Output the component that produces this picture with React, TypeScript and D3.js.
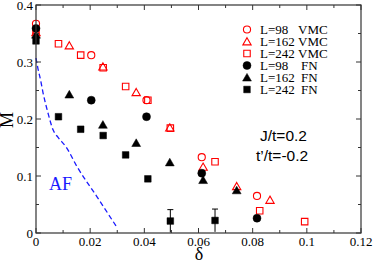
import React, { useEffect, useRef } from "react";
import * as d3 from "d3";

// delta values (hole doping) for each lattice size
const deltaL98 = [0, 0.0204, 0.0408, 0.0612, 0.0816];
const deltaL162 = [0, 0.0123, 0.0247, 0.037, 0.0494, 0.0617, 0.0741, 0.0864];
const deltaL242 = [0, 0.0083, 0.0165, 0.0248, 0.0331, 0.0413, 0.0496, 0.0661, 0.0826, 0.0992];
const deltaFN242 = [0, 0.0083, 0.0165, 0.0248, 0.0331, 0.0413, 0.0496, 0.0661];
const deltaFN162 = [0, 0.0123, 0.0247, 0.037, 0.0494, 0.0617, 0.0741];

// M values
const vmcL98 = [0.367, 0.312, 0.233, 0.133, 0.065];
const vmcL162 = [0.352, 0.329, 0.292, 0.247, 0.185, 0.116, 0.082, 0.058];
const vmcL242 = [0.355, 0.332, 0.312, 0.29, 0.257, 0.233, 0.184, 0.125, 0.039, 0.02];
const fnL98 = [0.359, 0.233, 0.204, 0.105, 0.026];
const fnL162 = [0.348, 0.243, 0.19, 0.158, 0.124, 0.093, 0.075];
const fnL242 = [0.337, 0.204, 0.182, 0.171, 0.137, 0.095, 0.021, 0.022];
const fnL242Err = [0, 0, 0, 0, 0, 0, 0.02, 0.02];

// AF boundary (dashed line)
const afDelta = [0, 0.0007, 0.0017, 0.0026, 0.0044, 0.0063, 0.0081, 0.0111, 0.0152, 0.0226, 0.03];
const afM = [0.307, 0.289, 0.268, 0.246, 0.211, 0.181, 0.168, 0.151, 0.116, 0.063, 0.009];

const xTicks = [0, 0.02, 0.04, 0.06, 0.08, 0.1, 0.12];
const xTickLabels = ["0", "0.02", "0.04", "0.06", "0.08", "0.1", "0.12"];
const yTicks = [0, 0.1, 0.2, 0.3, 0.4];
const yTickLabels = ["0", "0.1", "0.2", "0.3", "0.4"];
const xMinor = [0.01, 0.03, 0.05, 0.07, 0.09, 0.11];
const yMinor = [0.05, 0.15, 0.25, 0.35];

const legendNames = ["L=98", "L=162", "L=242", "L=98", "L=162", "L=242"];
const legendMethods = ["VMC", "VMC", "VMC", "FN", "FN", "FN"];

const serif = "'Liberation Serif', 'Times New Roman', serif";
const sans = "'Liberation Sans', Arial, sans-serif";

const App = () => {
  const svgRef = useRef(null);

  useEffect(() => {
    const width = 374;
    const height = 264;
    const svg = d3.select(svgRef.current).attr("width", width).attr("height", height);
    svg.selectAll("*").remove();

    const x = d3.scaleLinear().domain([0, 0.12]).range([36, 361]);
    const y = d3.scaleLinear().domain([0, 0.4]).range([233, 5]);

    const sym = {
      circle: d3.symbol().type(d3.symbolCircle),
      triangle: d3.symbol().type(d3.symbolTriangle),
      square: d3.symbol().type(d3.symbolSquare),
    };
    const sizes = { circle: 40, triangle: 30, square: 42 };
    const fillSizes = { circle: 50, triangle: 34, square: 44 };

    const series = [
      { xs: deltaL98, ys: vmcL98, shape: "circle", filled: false },
      { xs: deltaL162, ys: vmcL162, shape: "triangle", filled: false },
      { xs: deltaL242, ys: vmcL242, shape: "square", filled: false },
      { xs: deltaL98, ys: fnL98, shape: "circle", filled: true },
      { xs: deltaFN162, ys: fnL162, shape: "triangle", filled: true },
      { xs: deltaFN242, ys: fnL242, shape: "square", filled: true },
    ];

    const drawMarker = (g, cx, cy, shape, filled) => {
      const s = filled ? fillSizes[shape] : sizes[shape];
      const dy = shape === "triangle" ? 1 : 0;
      g.append("path")
        .attr("d", sym[shape].size(s)())
        .attr("transform", `translate(${cx},${cy + dy})`)
        .attr("fill", filled ? "#000" : "none")
        .attr("stroke", filled ? "#000" : "#ff0000")
        .attr("stroke-width", filled ? 0.5 : 1.1);
    };

    // dashed AF line
    const afData = afDelta.map((d, i) => [d, afM[i]]);
    svg
      .append("path")
      .datum(afData)
      .attr("d", d3.line().x((d) => x(d[0])).y((d) => y(d[1])).curve(d3.curveMonotoneX))
      .attr("fill", "none")
      .attr("stroke", "#1a1aff")
      .attr("stroke-width", 1.3)
      .attr("stroke-dasharray", "5 3");

    // error bars
    const errG = svg.append("g").attr("stroke", "#000").attr("stroke-width", 1);
    deltaFN242.forEach((d, i) => {
      const e = fnL242Err[i];
      if (!e) return;
      const cx = x(d);
      errG.append("line").attr("x1", cx).attr("x2", cx).attr("y1", y(fnL242[i] + e)).attr("y2", y(Math.max(0, fnL242[i] - e)));
      errG.append("line").attr("x1", cx - 3).attr("x2", cx + 3).attr("y1", y(fnL242[i] + e)).attr("y2", y(fnL242[i] + e));
    });

    // markers
    const markG = svg.append("g");
    series.forEach((s) => {
      s.xs.forEach((d, i) => drawMarker(markG, x(d), y(s.ys[i]), s.shape, s.filled));
    });

    // frame and ticks
    const axisColor = "#333";
    svg
      .append("rect")
      .attr("x", x(0))
      .attr("y", y(0.4))
      .attr("width", x(0.12) - x(0))
      .attr("height", y(0) - y(0.4))
      .attr("fill", "none")
      .attr("stroke", axisColor)
      .attr("stroke-width", 1.2);

    const tickG = svg.append("g").attr("stroke", axisColor).attr("stroke-width", 1);
    const xTick = (v, len) => {
      tickG.append("line").attr("x1", x(v)).attr("x2", x(v)).attr("y1", y(0)).attr("y2", y(0) - len);
      tickG.append("line").attr("x1", x(v)).attr("x2", x(v)).attr("y1", y(0.4)).attr("y2", y(0.4) + len);
    };
    const yTick = (v, len) => {
      tickG.append("line").attr("x1", x(0)).attr("x2", x(0) + len).attr("y1", y(v)).attr("y2", y(v));
      tickG.append("line").attr("x1", x(0.12)).attr("x2", x(0.12) - len).attr("y1", y(v)).attr("y2", y(v));
    };
    xTicks.forEach((v) => xTick(v, 5));
    xMinor.forEach((v) => xTick(v, 3));
    yTicks.forEach((v) => yTick(v, 5));
    yMinor.forEach((v) => yTick(v, 3));

    const label = (tx, ty, text, size, anchor, color = "#000", family = serif) =>
      svg
        .append("text")
        .attr("x", tx)
        .attr("y", ty)
        .attr("font-family", family)
        .attr("font-size", size)
        .attr("text-anchor", anchor)
        .attr("fill", color)
        .text(text);

    xTicks.forEach((v, i) => label(x(v), 246, xTickLabels[i], 13, "middle"));
    yTicks.forEach((v, i) => label(33, y(v) + 4.5, yTickLabels[i], 13, "end"));

    label(199, 260, "δ", 18, "middle");
    svg
      .append("text")
      .attr("transform", `translate(13,120) rotate(-90)`)
      .attr("font-family", serif)
      .attr("font-size", 18)
      .attr("text-anchor", "middle")
      .text("M");

    label(49, 190, "AF", 18, "start", "#1a1aff");
    label(260, 141, "J/t=0.2", 15.5, "start", "#000", sans);
    label(256, 161, "t’/t=-0.2", 15.5, "start", "#000", sans);

    // legend
    const legendShapes = ["circle", "triangle", "square", "circle", "triangle", "square"];
    legendNames.forEach((n, i) => {
      const ly = 29.5 + i * 12;
      drawMarker(svg, 247, ly, legendShapes[i], i >= 3);
      label(260, ly + 4.5, n, 13, "start");
      label(legendMethods[i] === "VMC" ? 298 : 301, ly + 4.5, legendMethods[i], 13, "start");
    });
  }, []);

  return <svg ref={svgRef} style={{ position: "absolute", left: 0, top: 0 }}></svg>;
};

export default App;
